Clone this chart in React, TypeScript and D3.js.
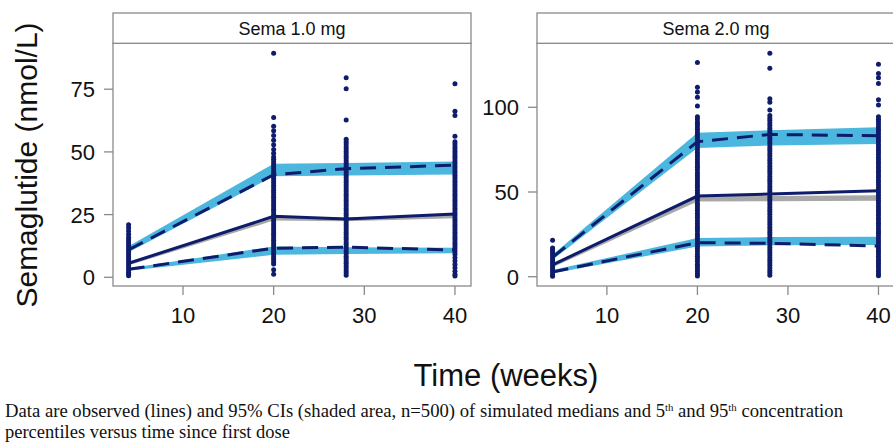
import { useEffect, useRef } from 'react';
import * as d3 from 'd3';

const weeks = [4, 20, 28, 40];
const xTicks = [10, 20, 30, 40];
const panelTitles = ['Sema 1.0 mg', 'Sema 2.0 mg'];
const yTicks1 = [0, 25, 50, 75];
const yTicks2 = [0, 50, 100];

// Sema 1.0 mg - observed percentiles (lines)
const obsMedian1 = [5.6, 24.3, 23.2, 25.2];
const obsP95_1 = [11.0, 40.9, 43.3, 44.7];
const obsP5_1 = [3.2, 11.6, 12.0, 10.9];
// Sema 1.0 mg - 95% CI of simulated percentiles (shaded)
const ciMedLo1 = [4.8, 22.6, 22.3, 23.5];
const ciMedHi1 = [5.9, 24.2, 23.8, 25.0];
const ciP95Lo1 = [10.0, 40.3, 40.6, 41.0];
const ciP95Hi1 = [12.4, 45.3, 45.6, 46.2];
const ciP5Lo1 = [2.6, 9.0, 9.3, 9.6];
const ciP5Hi1 = [3.6, 12.3, 12.0, 11.8];

// Sema 2.0 mg - observed percentiles (lines)
const obsMedian2 = [7.0, 47.6, 48.8, 50.8];
const obsP95_2 = [11.5, 79.7, 84.0, 83.2];
const obsP5_2 = [2.8, 20.1, 19.7, 18.1];
// Sema 2.0 mg - 95% CI of simulated percentiles (shaded)
const ciMedLo2 = [5.5, 44.4, 44.6, 44.9];
const ciMedHi2 = [7.8, 47.3, 47.6, 48.1];
const ciP95Lo2 = [10.0, 76.0, 77.5, 78.3];
const ciP95Hi2 = [13.0, 85.0, 86.5, 88.2];
const ciP5Lo2 = [2.0, 17.8, 18.5, 18.7];
const ciP5Hi2 = [4.0, 22.8, 23.4, 23.6];

// observed concentrations, Sema 1.0 mg
const obs1Week4 = [21, 19.8, 18.5, 17.2, 16, 15, 14.1, 13.2, 12.2, 11.3, 10.4, 9.4, 8.5, 7.6, 6.6, 5.7, 4.8, 3.8, 2.9,
  2, 1.2, 0.6];
const obs1Week20 = [89.3, 63.7, 60.2, 58.4, 56.5, 54.6, 52.8, 51, 49.5, 48, 47.1, 46.1, 45.2, 44.2, 43.3, 42.3, 41.4,
  40.4, 39.5, 38.5, 37.6, 36.6, 35.7, 34.7, 33.8, 32.8, 31.9, 30.9, 30, 29, 28.1, 27.1, 26.2, 25.2, 24.3, 23.3, 22.4,
  21.4, 20.5, 19.5, 18.6, 17.6, 16.7, 15.7, 14.8, 13.8, 12.9, 11.9, 11, 10, 9.1, 8.1, 7.2, 6.2, 5.3, 3, 1.2];
const obs1Week28 = [79.6, 75.2, 62.7, 55, 54, 53.1, 52.1, 51.2, 50.2, 49.3, 48.3, 47.4, 46.4, 45.5, 44.5, 43.6, 42.6,
  41.7, 40.7, 39.8, 38.8, 37.9, 36.9, 36, 35, 34.1, 33.1, 32.2, 31.2, 30.3, 29.3, 28.4, 27.4, 26.5, 25.5, 24.6, 23.6,
  22.7, 21.7, 20.8, 19.8, 18.9, 17.9, 17, 16, 15.1, 14.1, 13.2, 12.2, 11.3, 10.3, 9.4, 8.4, 7.5, 6.5, 5.6, 4.6, 3.7,
  2.7, 1.8, 0.8];
const obs1Week40 = [77.2, 66.2, 64.5, 56.2, 54, 53.1, 52.1, 51.2, 50.2, 49.3, 48.3, 47.4, 46.4, 45.5, 44.5, 43.6, 42.6,
  41.7, 40.7, 39.8, 38.8, 37.9, 36.9, 36, 35, 34.1, 33.1, 32.2, 31.2, 30.3, 29.3, 28.4, 27.4, 26.5, 25.5, 24.6, 23.6,
  22.7, 21.7, 20.8, 19.8, 18.9, 17.9, 17, 16, 15.1, 14.1, 13.2, 12.2, 11.3, 10.3, 9.2, 7.8, 6.5, 5.1, 3.8, 2.4, 1.1, 0.5];

// observed concentrations, Sema 2.0 mg
const obs2Week4 = [21.5, 17, 16, 14.8, 13.5, 12.3, 11, 9.8, 8.5, 7.3, 6, 4.8, 3.5, 2.3, 1, 0.3];
const obs2Week20 = [126.5, 111.8, 109, 106, 100.8, 94.5, 93.1, 91.4, 90, 88.6, 87.1, 85.4, 84, 82.6, 81.1, 79.4, 78,
  76.6, 75.1, 73.4, 72, 70.6, 69.1, 67.4, 66, 64.6, 63.1, 61.4, 60, 58.6, 57.1, 55.4, 54, 52.6, 51.1, 49.4, 48, 46.6,
  45.1, 43.4, 42, 40.6, 39.1, 37.4, 36, 34.6, 33.1, 31.4, 30, 28.6, 27.1, 25.4, 24, 22.6, 21.1, 19.4, 18, 16.6, 15.1,
  13.4, 12, 10.6, 9.1, 7.4, 6, 4.6, 3.1, 1.6, 0.4];
const obs2Week28 = [131.9, 123, 105, 103, 98.4, 95.2, 93.7, 92.3, 90.8, 89.2, 87.7, 86.3, 84.8, 83.2, 81.7, 80.3, 78.8,
  77.2, 75.7, 74.3, 72.8, 71.2, 69.7, 68.3, 66.8, 65.2, 63.7, 62.3, 60.8, 59.2, 57.7, 56.3, 54.8, 53.2, 51.7, 50.3, 48.8,
  47.2, 45.7, 44.3, 42.8, 41.2, 39.7, 38.3, 36.8, 35.2, 33.7, 32.3, 30.8, 29.2, 27.7, 26.3, 24.8, 23.2, 21.7, 20.3, 18.8,
  17.2, 15.7, 14.3, 12.8, 11.2, 9.7, 8.3, 6.8, 5.2, 3.7, 2.3, 0.8];
const obs2Week40 = [125.4, 120, 117.5, 114, 104.5, 101.4, 94.5, 93, 91.6, 90.1, 88.5, 87, 85.6, 84.1, 82.5, 81, 79.6,
  78.1, 76.5, 75, 73.6, 72.1, 70.5, 69, 67.6, 66.1, 64.5, 63, 61.6, 60.1, 58.5, 57, 55.6, 54.1, 52.5, 51, 49.6, 48.1,
  46.5, 45, 43.6, 42.1, 40.5, 39, 37.6, 36.1, 34.5, 33, 31.6, 30.1, 28.5, 27, 25.6, 24.1, 22.5, 21, 19.6, 18.1, 16.5,
  15, 13.6, 12.1, 10.5, 9, 7.6, 6.1, 4.5, 3, 1.6, 0.5];

const NAVY = '#0e1c6b';
const BAND = '#4bb6de';
const GREY = '#a8a8a8';
const FRAME = '#8a8a8a';
const SANS = 'Liberation Sans, Arial, sans-serif';

const panels = [
  {
    title: panelTitles[0], left: 113, right: 471, yDomain: [-3.47, 93.3], yTicks: yTicks1,
    obsMedian: obsMedian1, obsP95: obsP95_1, obsP5: obsP5_1,
    bands: [[ciP95Lo1, ciP95Hi1, BAND], [ciP5Lo1, ciP5Hi1, BAND], [ciMedLo1, ciMedHi1, GREY]],
    points: [obs1Week4, obs1Week20, obs1Week28, obs1Week40],
  },
  {
    title: panelTitles[1], left: 537, right: 894.5, yDomain: [-5.5, 137.8], yTicks: yTicks2,
    obsMedian: obsMedian2, obsP95: obsP95_2, obsP5: obsP5_2,
    bands: [[ciP95Lo2, ciP95Hi2, BAND], [ciP5Lo2, ciP5Hi2, BAND], [ciMedLo2, ciMedHi2, GREY]],
    points: [obs2Week4, obs2Week20, obs2Week28, obs2Week40],
  },
];

const App = () => {
  const ref = useRef<SVGSVGElement>(null);

  const stripTop = 13;
  const plotTop = 43.3;
  const plotBottom = 286;

  useEffect(() => {
    const svg = d3.select(ref.current);
    svg.selectAll('*').remove();

    panels.forEach((p: any) => {
      const x = d3.scaleLinear().domain([2.28, 41.77]).range([p.left, p.right]);
      const y = d3.scaleLinear().domain(p.yDomain).range([plotBottom, plotTop]);
      const g = svg.append('g');

      // shaded CI bands
      p.bands.forEach(([lo, hi, color]: any) => {
        const area = d3.area<number>()
          .x((d, i) => x(weeks[i]))
          .y0((d, i) => y(lo[i]))
          .y1((d, i) => y(hi[i]));
        g.append('path').attr('d', area(weeks)).attr('fill', color);
      });

      // observed percentile lines
      const line = (vals: number[]) =>
        d3.line<number>().x((d, i) => x(weeks[i])).y((d) => y(d))(vals);
      g.append('path').attr('d', line(p.obsMedian)).attr('fill', 'none')
        .attr('stroke', NAVY).attr('stroke-width', 3);
      [p.obsP95, p.obsP5].forEach((vals: number[]) => {
        g.append('path').attr('d', line(vals)).attr('fill', 'none')
          .attr('stroke', NAVY).attr('stroke-width', 3).attr('stroke-dasharray', '16,9');
      });

      // observed concentrations
      p.points.forEach((vals: number[], i: number) => {
        g.append('g').selectAll('circle').data(vals).enter().append('circle')
          .attr('cx', x(weeks[i]))
          .attr('cy', (d: number) => y(d))
          .attr('r', 2.5)
          .attr('fill', NAVY);
      });

      // frame + strip
      const w = p.right - p.left;
      svg.append('rect').attr('x', p.left).attr('y', plotTop).attr('width', w)
        .attr('height', plotBottom - plotTop).attr('fill', 'none')
        .attr('stroke', FRAME).attr('stroke-width', 1.3);
      svg.append('rect').attr('x', p.left).attr('y', stripTop).attr('width', w)
        .attr('height', plotTop - stripTop).attr('fill', '#fff')
        .attr('stroke', FRAME).attr('stroke-width', 1.3);
      svg.append('text').attr('x', p.left + 179).attr('y', 35)
        .attr('text-anchor', 'middle').style('font', `18px ${SANS}`).attr('fill', '#111')
        .text(p.title);

      // y axis
      p.yTicks.forEach((t: number) => {
        svg.append('line').attr('x1', p.left - 9).attr('x2', p.left)
          .attr('y1', y(t)).attr('y2', y(t)).attr('stroke', FRAME).attr('stroke-width', 1.3);
        svg.append('text').attr('x', p.left - 18).attr('y', y(t)).attr('dy', '0.36em')
          .attr('text-anchor', 'end').style('font', `22px ${SANS}`).attr('fill', '#111')
          .text(t);
      });

      // x axis
      xTicks.forEach((t) => {
        svg.append('line').attr('x1', x(t)).attr('x2', x(t))
          .attr('y1', plotBottom).attr('y2', plotBottom + 9)
          .attr('stroke', FRAME).attr('stroke-width', 1.3);
        svg.append('text').attr('x', x(t)).attr('y', 323)
          .attr('text-anchor', 'middle').style('font', `22px ${SANS}`).attr('fill', '#111')
          .text(t);
      });
    });

    // axis titles
    svg.append('text').attr('transform', 'translate(37,165) rotate(-90)')
      .attr('text-anchor', 'middle').style('font', `30px ${SANS}`).attr('fill', '#111')
      .text('Semaglutide (nmol/L)');
    svg.append('text').attr('x', 506).attr('y', 386)
      .attr('text-anchor', 'middle').style('font', `31px ${SANS}`).attr('fill', '#111')
      .text('Time (weeks)');

    // caption
    const serif = '19px Liberation Serif, Times New Roman, serif';
    const cap1 = svg.append('text').attr('x', 5).attr('y', 417).style('font', serif)
      .attr('fill', '#111').attr('textLength', 838).attr('lengthAdjust', 'spacingAndGlyphs');
    cap1.append('tspan').text('Data are observed (lines) and 95% CIs (shaded area, n=500) of simulated medians and 5');
    cap1.append('tspan').attr('dy', -6).style('font-size', '11px').text('th');
    cap1.append('tspan').attr('dy', 6).text(' and 95');
    cap1.append('tspan').attr('dy', -6).style('font-size', '11px').text('th');
    cap1.append('tspan').attr('dy', 6).text(' concentration');
    svg.append('text').attr('x', 5).attr('y', 438).style('font', serif)
      .attr('fill', '#111').attr('textLength', 285).attr('lengthAdjust', 'spacingAndGlyphs')
      .text('percentiles versus time since first dose');
  }, []);

  return (
    <svg
      ref={ref}
      width={893}
      height={445}
      style={{ position: 'absolute', left: 0, top: 0, background: '#fff' }}
    />
  );
};

export default App;
